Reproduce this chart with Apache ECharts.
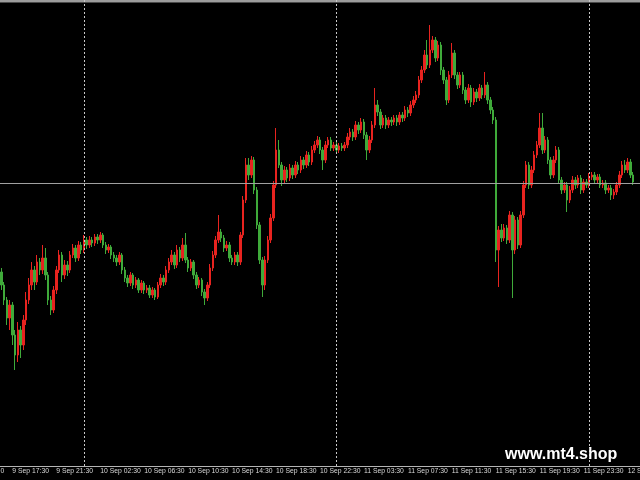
<!DOCTYPE html>
<html><head><meta charset="utf-8">
<script src="https://cdn.jsdelivr.net/npm/echarts@6/dist/echarts.min.js"></script>
<style>html,body{margin:0;padding:0;background:#000}#c{width:640px;height:480px}</style>
</head><body><div id="c"></div>
<script>
// Trading sessions (minutes from midnight) — M15 bars, one bar per 15 min
const sessions = [["9 Sep", 990, 1425], ["10 Sep", 60, 1425], ["11 Sep", 60, 1425], ["12 Sep", 60, 330]];
const tickLabels = ["9 Sep 17:30","9 Sep 21:30","10 Sep 02:30","10 Sep 06:30","10 Sep 10:30","10 Sep 14:30","10 Sep 18:30","10 Sep 22:30","11 Sep 03:30","11 Sep 07:30","11 Sep 11:30","11 Sep 15:30","11 Sep 19:30","11 Sep 23:30","12 Sep 04:30"];
const daySeparators = ["10 Sep 01:00","11 Sep 01:00","12 Sep 01:00"];
const currentPrice = 110.17;

const open = [
109.28,109.15,109.00,108.82,108.95,108.65,108.45,108.70,108.55,108.80,
109.00,109.15,109.30,109.18,109.38,109.30,109.42,109.25,109.00,108.90,
109.10,109.30,109.45,109.25,109.35,109.30,109.45,109.52,109.42,109.55,
109.50,109.60,109.55,109.60,109.57,109.63,109.60,109.65,109.55,109.50,
109.53,109.45,109.42,109.38,109.45,109.30,109.22,109.17,109.25,109.15,
109.20,109.10,109.17,109.10,109.12,109.05,109.10,109.03,109.15,109.22,
109.18,109.30,109.38,109.45,109.35,109.50,109.42,109.55,109.40,109.32,
109.38,109.25,109.15,109.20,109.08,109.02,109.15,109.32,109.45,109.60,
109.68,109.62,109.52,109.55,109.42,109.38,109.45,109.38,109.65,110.00,
110.35,110.25,110.40,110.10,109.75,109.40,109.15,109.40,109.60,109.82,
110.15,110.50,110.35,110.20,110.30,110.22,110.32,110.25,110.35,110.30,
110.40,110.35,110.45,110.38,110.50,110.55,110.60,110.50,110.40,110.55,
110.60,110.52,110.55,110.50,110.54,110.52,110.55,110.63,110.68,110.63,
110.75,110.70,110.78,110.65,110.50,110.60,110.75,110.95,110.88,110.75,
110.82,110.75,110.80,110.78,110.82,110.78,110.85,110.82,110.90,110.87,
110.95,111.00,111.05,111.20,111.30,111.45,111.35,111.50,111.60,111.42,
111.55,111.30,111.20,111.00,111.25,111.47,111.25,111.15,111.25,111.10,
111.00,111.12,110.98,111.08,111.02,111.12,111.05,111.15,111.00,110.90,
110.80,109.50,109.70,109.62,109.72,109.60,109.85,109.50,109.80,109.55,
109.85,110.15,110.35,110.15,110.30,110.45,110.55,110.72,110.50,110.60,
110.40,110.25,110.40,110.50,110.20,110.10,110.15,110.00,110.10,110.20,
110.15,110.22,110.10,110.18,110.15,110.23,110.25,110.20,110.23,110.15,
110.17,110.10,110.12,110.05,110.08,110.15,110.25,110.35,110.30,110.38,
110.25];
const close = [
109.15,109.00,108.82,108.95,108.65,108.45,108.70,108.55,108.80,109.00,
109.15,109.30,109.18,109.38,109.30,109.42,109.25,109.00,108.90,109.10,
109.30,109.45,109.25,109.35,109.30,109.45,109.52,109.42,109.55,109.50,
109.60,109.55,109.60,109.57,109.63,109.60,109.65,109.55,109.50,109.53,
109.45,109.42,109.38,109.45,109.30,109.22,109.17,109.25,109.15,109.20,
109.10,109.17,109.10,109.12,109.05,109.10,109.03,109.15,109.22,109.18,
109.30,109.38,109.45,109.35,109.50,109.42,109.55,109.40,109.32,109.38,
109.25,109.15,109.20,109.08,109.02,109.15,109.32,109.45,109.60,109.68,
109.62,109.52,109.55,109.42,109.38,109.45,109.38,109.65,110.00,110.35,
110.25,110.40,110.10,109.75,109.40,109.15,109.40,109.60,109.82,110.15,
110.50,110.35,110.20,110.30,110.22,110.32,110.25,110.35,110.30,110.40,
110.35,110.45,110.38,110.50,110.55,110.60,110.50,110.40,110.55,110.60,
110.52,110.55,110.50,110.54,110.52,110.55,110.63,110.68,110.63,110.75,
110.70,110.78,110.65,110.50,110.60,110.75,110.95,110.88,110.75,110.82,
110.75,110.80,110.78,110.82,110.78,110.85,110.82,110.90,110.87,110.95,
111.00,111.05,111.20,111.30,111.45,111.35,111.50,111.60,111.42,111.55,
111.30,111.20,111.00,111.25,111.47,111.25,111.15,111.25,111.10,111.00,
111.12,110.98,111.08,111.02,111.12,111.05,111.15,111.00,110.90,110.80,
109.50,109.70,109.62,109.72,109.60,109.85,109.50,109.80,109.55,109.85,
110.15,110.35,110.15,110.30,110.45,110.55,110.72,110.50,110.60,110.40,
110.25,110.40,110.50,110.20,110.10,110.15,110.00,110.10,110.20,110.15,
110.22,110.10,110.18,110.15,110.23,110.25,110.20,110.23,110.15,110.17,
110.10,110.12,110.05,110.08,110.15,110.25,110.35,110.30,110.38,110.25,
110.18];
const high = [
109.32,109.18,109.03,109.00,108.98,108.70,108.78,108.74,108.85,109.08,
109.22,109.38,109.34,109.45,109.42,109.55,109.52,109.28,109.04,109.14,
109.34,109.50,109.48,109.40,109.39,109.49,109.56,109.55,109.59,109.58,
109.65,109.63,109.64,109.63,109.66,109.66,109.68,109.67,109.58,109.56,
109.55,109.48,109.45,109.48,109.47,109.33,109.25,109.28,109.27,109.23,
109.22,109.20,109.19,109.15,109.15,109.13,109.12,109.18,109.26,109.25,
109.34,109.42,109.50,109.48,109.55,109.53,109.62,109.67,109.43,109.41,
109.40,109.28,109.23,109.22,109.11,109.18,109.36,109.49,109.64,109.85,
109.71,109.65,109.59,109.58,109.45,109.48,109.48,109.68,110.04,110.42,
110.42,110.44,110.43,110.13,109.78,109.43,109.44,109.64,109.86,110.19,
110.72,110.60,110.38,110.34,110.33,110.36,110.35,110.39,110.38,110.44,
110.43,110.49,110.48,110.54,110.59,110.64,110.63,110.53,110.59,110.63,
110.63,110.58,110.58,110.57,110.57,110.58,110.67,110.72,110.71,110.79,
110.78,110.82,110.81,110.68,110.64,110.79,111.12,111.00,110.91,110.85,
110.85,110.83,110.83,110.85,110.85,110.88,110.88,110.94,110.93,110.99,
111.04,111.09,111.24,111.34,111.50,111.60,111.75,111.64,111.63,111.59,
111.58,111.33,111.23,111.29,111.57,111.50,111.28,111.28,111.28,111.13,
111.16,111.15,111.12,111.11,111.16,111.15,111.28,111.18,111.03,110.93,
110.83,109.74,109.76,109.76,109.75,109.89,109.88,109.84,109.83,109.89,
110.19,110.39,110.38,110.34,110.49,110.59,110.87,110.87,110.64,110.63,
110.43,110.44,110.54,110.53,110.23,110.18,110.18,110.14,110.24,110.23,
110.25,110.25,110.21,110.21,110.27,110.28,110.28,110.26,110.26,110.20,
110.20,110.15,110.15,110.11,110.18,110.29,110.39,110.40,110.42,110.41,
110.28];
const low = [
109.10,108.95,108.75,108.70,108.55,108.30,108.38,108.42,108.50,108.75,
108.96,109.10,109.10,109.15,109.25,109.26,109.20,108.95,108.85,108.87,
109.06,109.27,109.18,109.21,109.24,109.27,109.42,109.38,109.39,109.46,
109.47,109.51,109.52,109.53,109.54,109.56,109.57,109.52,109.46,109.47,
109.41,109.38,109.34,109.35,109.26,109.18,109.13,109.14,109.11,109.12,
109.07,109.07,109.06,109.07,109.02,109.02,109.00,109.01,109.12,109.14,
109.15,109.27,109.35,109.31,109.32,109.38,109.39,109.37,109.28,109.29,
109.21,109.11,109.12,109.04,108.95,108.99,109.12,109.29,109.42,109.57,
109.58,109.48,109.49,109.38,109.35,109.35,109.34,109.35,109.62,109.97,
110.20,110.22,110.06,109.71,109.36,109.03,109.10,109.37,109.57,109.79,
110.12,110.32,110.14,110.17,110.18,110.19,110.21,110.22,110.26,110.27,
110.31,110.32,110.34,110.35,110.47,110.52,110.46,110.30,110.37,110.52,
110.49,110.49,110.47,110.47,110.49,110.49,110.52,110.60,110.59,110.60,
110.66,110.67,110.61,110.40,110.47,110.57,110.72,110.84,110.71,110.72,
110.71,110.72,110.74,110.75,110.74,110.75,110.78,110.79,110.83,110.84,
110.92,110.97,111.02,111.17,111.27,111.31,111.32,111.47,111.38,111.39,
111.25,111.16,110.95,110.97,111.22,111.21,111.11,111.12,111.06,110.96,
110.97,110.93,110.95,110.98,110.99,111.01,111.02,110.96,110.86,110.76,
109.38,109.13,109.58,109.59,109.56,109.57,109.02,109.46,109.51,109.52,
109.82,110.12,110.11,110.12,110.27,110.42,110.52,110.46,110.47,110.36,
110.21,110.22,110.37,110.16,110.06,110.07,109.88,109.97,110.07,110.11,
110.12,110.06,110.07,110.12,110.12,110.20,110.17,110.17,110.12,110.12,
110.06,110.07,110.00,110.01,110.05,110.12,110.22,110.27,110.27,110.22,
110.15];

function buildCategories() {
  const out = [];
  for (const [day, start, end] of sessions) {
    for (let m = start; m <= end; m += 15) {
      const h = Math.floor(m / 60), mm = m % 60;
      out.push(day + ' ' + String(h).padStart(2, '0') + ':' + String(mm).padStart(2, '0'));
    }
  }
  return out;
}
const categories = buildCategories();
const ohlc = open.map((o, i) => [o, close[i], low[i], high[i]]);
const tickSet = new Set(tickLabels);
const showTick = (idx, val) => tickSet.has(val);

const RED = '#e8231f', GREEN = '#3faa3a';
const LABEL_FONT = 'Liberation Sans, Arial, sans-serif';
const chart = echarts.init(document.getElementById('c'), null, {renderer: 'canvas'});
chart.setOption({
  backgroundColor: '#000000',
  animation: false,
  grid: {left: 0, right: 0, top: 0, bottom: 14, containLabel: false, outerBoundsMode: 'none'},
  xAxis: {
    type: 'category', data: categories, boundaryGap: true,
    axisLine: {lineStyle: {color: '#b4b4b4', width: 1}},
    axisTick: {interval: showTick, alignWithLabel: true, length: 3, lineStyle: {color: '#b4b4b4'}},
    axisLabel: {interval: showTick, align: 'left', margin: 2, color: '#d8d8d8', fontSize: 6.8,
      fontFamily: LABEL_FONT, hideOverlap: false, showMaxLabel: true},
    splitLine: {show: false}
  },
  yAxis: {type: 'value', min: 107.34, max: 112.00, show: false, splitLine: {show: false}, scale: true},
  series: [{
    type: 'candlestick', data: ohlc, barWidth: 2,
    itemStyle: {color: RED, color0: GREEN, borderColor: RED, borderColor0: GREEN, borderWidth: 1},
    markLine: {
      silent: true, symbol: ['none', 'none'], label: {show: false}, animation: false,
      data: [
        ...daySeparators.map(d => ({xAxis: d, lineStyle: {color: '#c8c8c8', type: [2, 2], width: 1}})),
        {yAxis: currentPrice, lineStyle: {color: '#a0a0a0', type: 'solid', width: 1}}
      ]
    }
  }],
  graphic: [
    {type: 'rect', left: 0, top: 0, shape: {width: 640, height: 2}, style: {fill: '#9c9c9c'}, silent: true},
    {type: 'rect', left: 0, top: 2, shape: {width: 640, height: 1}, style: {fill: '#4a4a4a'}, silent: true},
    {type: 'text', left: -32.5, top: 468, style: {text: '9 Sep 13:30', fill: '#d8d8d8', fontSize: 6.8,
      fontFamily: LABEL_FONT}, silent: true},
    {type: 'text', left: 505, top: 447, style: {text: 'www.mt4.shop', fill: '#ffffff', fontSize: 16, fontWeight: 'bold',
      fontFamily: 'Liberation Sans, Arial, sans-serif'}, silent: true}
  ]
});
</script>
</body></html>
